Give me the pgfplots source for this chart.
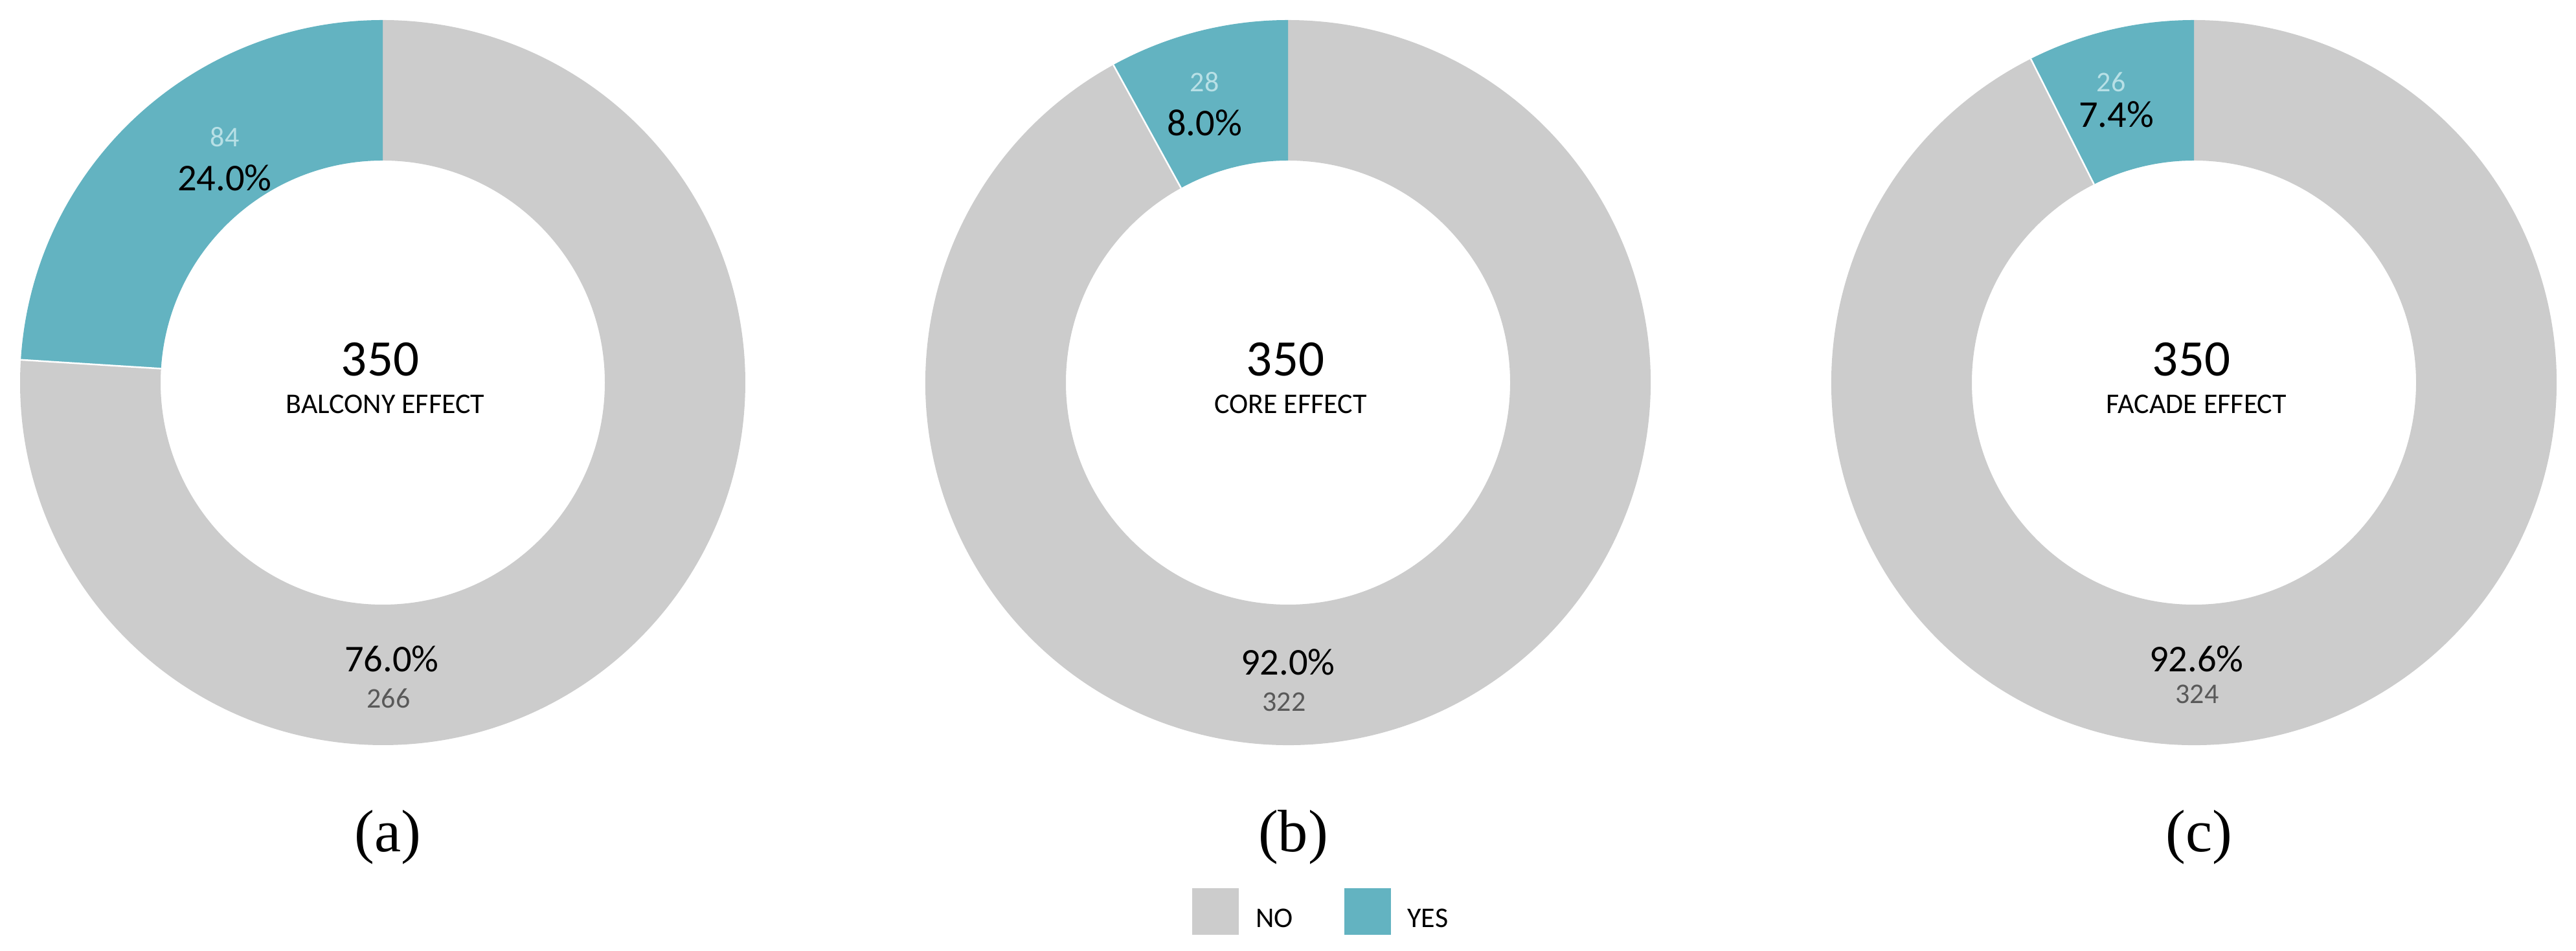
\documentclass[border=0pt]{standalone}
\usepackage{fontspec}
\setmainfont{Carlito}
\newfontfamily\capfont{Liberation Serif}
\usepackage{pgfplots}
\usepackage{pgfplotstable}
\pgfplotsset{compat=1.18}

\definecolor{noc}{HTML}{CCCCCC}
\definecolor{yesc}{HTML}{63B3C1}
\definecolor{yestxt}{HTML}{B8E0E6}
\definecolor{notxt}{HTML}{595959}

% one row per donut; label offsets in px from the donut centre (y downwards)
\pgfplotstableread[col sep=comma]{
cx,yes,no,title,ypx,ypy,ycx,ycy,npx,npy,ncx,ncy,capt
591,84,266,BALCONY EFFECT,-244,-316,-244,-379,14,427,9,488,(a)
1989,28,322,CORE EFFECT,-129,-401,-129,-464,0,432,-6,493,(b)
3388,26,324,FACADE EFFECT,-120,-414,-128,-464,4,427,5,481,(c)
}\donuts

\newcommand\getv[2]{\pgfplotstablegetelem{#1}{#2}\of\donuts%
  \expandafter\let\csname v#2\endcsname\pgfplotsretval}
\newcommand\pct[1]{\pgfmathparse{100*(#1/\vtot)}%
  \pgfmathprintnumber[fixed,fixed zerofill,precision=1,assume math mode=true]{\pgfmathresult}\%}
\newcommand\lbl[4]{% x offset, y offset, style, text
  \pgfmathsetmacro\px{\vcx+#1}\pgfmathsetmacro\py{878-#2}%
  \node[inner sep=0pt,#3] at (axis cs:\px,\py) {#4};}

\def\Ro{112pt}\def\Ri{68.6pt}\def\Rd{43.4pt}
\newcommand\donut[1]{%
  \getv{#1}{cx}\getv{#1}{yes}\getv{#1}{no}\getv{#1}{title}\getv{#1}{capt}%
  \getv{#1}{ypx}\getv{#1}{ypy}\getv{#1}{ycx}\getv{#1}{ycy}%
  \getv{#1}{npx}\getv{#1}{npy}\getv{#1}{ncx}\getv{#1}{ncy}%
  \pgfmathtruncatemacro\vtot{\vyes+\vno}%
  \pgfmathsetmacro\ang{90+360*(\vyes/\vtot)}%
  \fill[noc] (axis cs:\vcx,878) ++(\ang:\Ro) arc[start angle=\ang,end angle=450,radius=\Ro]
    -- ++(90:-\Rd) arc[start angle=450,end angle=\ang,radius=\Ri] -- cycle;%
  \fill[yesc] (axis cs:\vcx,878) ++(90:\Ro) arc[start angle=90,end angle=\ang,radius=\Ro]
    -- ++(\ang:-\Rd) arc[start angle=\ang,end angle=90,radius=\Ri] -- cycle;%
  \draw[white,line width=0.5pt] (axis cs:\vcx,878) ++(\ang:\Ri) -- ++(\ang:\Rd);%
  \lbl{\vypx}{\vypy}{font=\fontsize{11.7}{14}\selectfont}{\pct{\vyes}}%
  \lbl{\vycx}{\vycy}{font=\fontsize{8.8}{10}\selectfont,text=yestxt}{\vyes}%
  \lbl{\vnpx}{\vnpy}{font=\fontsize{11.7}{14}\selectfont}{\pct{\vno}}%
  \lbl{\vncx}{\vncy}{font=\fontsize{8.8}{10}\selectfont,text=notxt}{\vno}%
  \lbl{-4}{-36}{font=\fontsize{15.8}{18}\selectfont}{\vtot}%
  \lbl{4}{33}{font=\fontsize{8.8}{10}\selectfont}{\vtitle}%
  \lbl{8}{702}{font=\capfont\fontsize{18.5}{22}\selectfont}{\vcapt}%
}

\begin{document}
\begin{tikzpicture}
\begin{axis}[
    scale only axis, width=795.6pt, height=293.8pt,
    xmin=0, xmax=3978, ymin=0, ymax=1469,
    hide axis, clip=false,
    legend image code/.code={\fill[#1] (0pt,-4.2pt) rectangle (14pt,9.8pt);},
    legend style={at={(axis cs:1840,61)}, anchor=west, draw=none, fill=none,
        inner sep=0pt, legend columns=2, font=\fontsize{8.8}{10}\selectfont,
        nodes={inner sep=0pt},
        /tikz/every odd column/.append style={column sep=5.2pt},
        /tikz/every even column/.append style={column sep=15.8pt}},
]
\addlegendimage{noc}
\addlegendentry{NO}
\addlegendimage{yesc}
\addlegendentry{YES}
\pgfplotsextra{\donut{0}\donut{1}\donut{2}}
\end{axis}
\pgfresetboundingbox
\path (current axis.south west) rectangle (current axis.north east);
\end{tikzpicture}
\end{document}
